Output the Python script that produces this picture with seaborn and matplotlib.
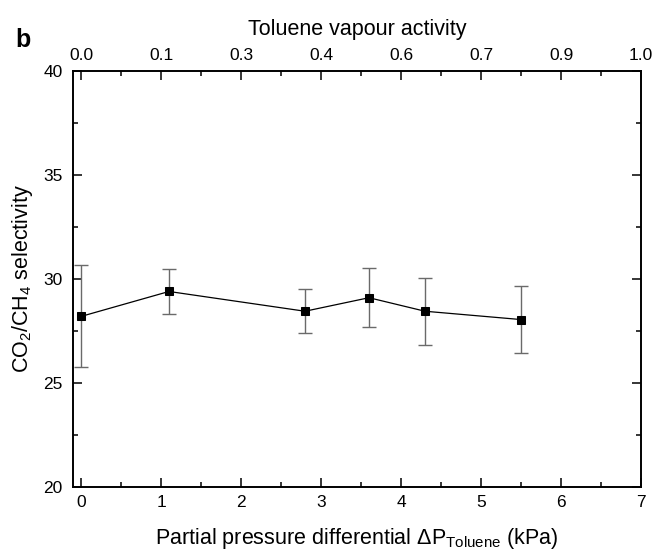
import matplotlib
matplotlib.use("Agg")
import matplotlib.pyplot as plt
import seaborn as sns
import pandas as pd
from matplotlib.ticker import MultipleLocator, FixedLocator

# Data
pressure_kpa = [0.0, 1.1, 2.8, 3.6, 4.3, 5.5]
selectivity = [28.2, 29.4, 28.45, 29.1, 28.45, 28.05]
selectivity_err = [2.45, 1.1, 1.07, 1.43, 1.6, 1.62]
top_tick_pos = [0, 1, 2, 3, 4, 5, 6, 7]
top_tick_labels = ["0.0", "0.1", "0.3", "0.4", "0.6", "0.7", "0.9", "1.0"]

df = pd.DataFrame({"p": pressure_kpa, "s": selectivity, "e": selectivity_err})

sns.set_theme(style="ticks")
plt.rcParams["font.family"] = ["Liberation Sans", "DejaVu Sans"]
plt.rcParams["mathtext.default"] = "regular"
for k in ["text.color", "axes.labelcolor", "xtick.color", "ytick.color",
          "xtick.labelcolor", "ytick.labelcolor"]:
    plt.rcParams[k] = "black"

fig = plt.figure(figsize=(6.53, 5.55), dpi=100)
ax = fig.add_axes([73/653, 1 - 487/555, (641 - 73)/653, (487 - 71)/555])

ax.errorbar(df["p"], df["s"], yerr=df["e"], fmt="none", ecolor="#6a6a6a",
            elinewidth=1.0, capsize=5, capthick=1.0, zorder=2)
sns.lineplot(data=df, x="p", y="s", ax=ax, color="black", linewidth=0.9,
             marker="s", markersize=6, markeredgecolor="black",
             markerfacecolor="black", zorder=3)

ax.set_xlim(-0.1, 7)
ax.set_ylim(20, 40)
ax.xaxis.set_major_locator(MultipleLocator(1))
ax.xaxis.set_minor_locator(MultipleLocator(0.5))
ax.yaxis.set_major_locator(MultipleLocator(5))
ax.yaxis.set_minor_locator(MultipleLocator(2.5))

for sp in ax.spines.values():
    sp.set_visible(True)
    sp.set_linewidth(1.2)
    sp.set_color("black")

ax.tick_params(which="both", direction="in", top=False, right=True,
               color="black", width=1.1)
ax.tick_params(which="major", length=6.5, labelsize=12.5, pad=6)
ax.tick_params(which="minor", length=3.5)
ax.tick_params(axis="y", which="major", pad=7.5)

ax.set_xlabel(r"Partial pressure differential $\Delta$P$_{Toluene}$ (kPa)",
              fontsize=15.5, labelpad=11)
ax.set_ylabel(r"CO$_2$/CH$_4$ selectivity", fontsize=15.5, labelpad=6)

top = ax.twiny()
top.set_xlim(ax.get_xlim())
top.xaxis.set_major_locator(FixedLocator(top_tick_pos))
top.set_xticklabels(top_tick_labels)
top.xaxis.set_minor_locator(MultipleLocator(0.5))
top.tick_params(which="both", direction="in", color="black", width=1.1)
top.tick_params(which="major", length=6.5, labelsize=12.5, pad=6)
top.tick_params(which="minor", length=3.5)
top.set_xlabel("Toluene vapour activity", fontsize=15.5, labelpad=9)
for sp in top.spines.values():
    sp.set_linewidth(1.2)
    sp.set_color("black")

fig.text(23/653, 1 - 40/555, "b", fontsize=18, fontweight="bold",
         ha="center", va="center")

fig.savefig("out.png", dpi=100)
